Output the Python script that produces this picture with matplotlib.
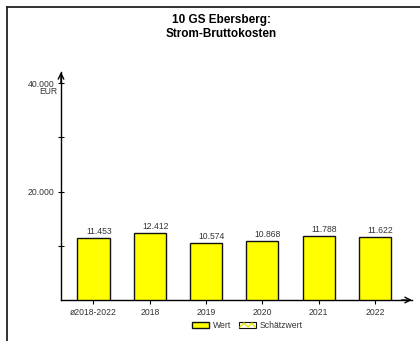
import matplotlib
matplotlib.use("Agg")
import matplotlib.pyplot as plt
from matplotlib.patches import Rectangle
from matplotlib.lines import Line2D

categories = ["ø2018-2022", "2018", "2019", "2020", "2021", "2022"]
values = [11453, 12412, 10574, 10868, 11788, 11622]
value_labels = ["11.453", "12.412", "10.574", "10.868", "11.788", "11.622"]
title = "10 GS Ebersberg:\nStrom-Bruttokosten"
ytick_vals = [10000, 20000, 30000, 40000]
ytick_labels = ["", "20.000", "", "40.000"]
unit = "EUR"
legend_labels = ["Wert", "Schätzwert"]

plt.rcParams['font.family'] = ['Liberation Sans', 'DejaVu Sans']
W, H = 420, 341
fig = plt.figure(figsize=(W / 100, H / 100), dpi=100)

def fx(px):
    return px / W

def fy(py):
    return 1 - py / H

# frame
fig.add_artist(Line2D([fx(7), fx(7)], [0, fy(7)], color="#222222", lw=1.3))
fig.add_artist(Line2D([fx(7), 1], [fy(7), fy(7)], color="#222222", lw=1.3))

ax = fig.add_axes([fx(61), fy(300), fx(412) - fx(61), fy(72) - fy(300)])
ax.set_facecolor("none")
ax.patch.set_alpha(0)

x = list(range(len(categories)))
bars = ax.bar(x, values, width=0.57, color="#ffff00", edgecolor="#111111", linewidth=1.0, zorder=3)
for xi, v, lab in zip(x, values, value_labels):
    ax.annotate(lab, (xi, v), xytext=(4, 1.2), textcoords="offset points",
                ha="center", va="bottom", fontsize=6.2, color="#333333")

ax.set_xlim(-0.577, 5.657)
ax.set_ylim(0, 42028)

for s in ["top", "right"]:
    ax.spines[s].set_visible(False)
ax.spines["left"].set_linewidth(1.0)
ax.spines["bottom"].set_linewidth(1.0)

ax.set_xticks(x)
ax.set_xticklabels(categories, fontsize=6.2, color="#333333")
ax.tick_params(axis="x", direction="out", length=3, width=0.8, pad=3)
ax.set_yticks(ytick_vals)
ax.set_yticklabels(ytick_labels, fontsize=6.2, color="#333333")
ax.tick_params(axis="y", direction="inout", length=5, width=0.8, pad=2)

# arrows
ax.annotate("", xy=(0, 1.0), xytext=(0, 0.95), xycoords="axes fraction",
            arrowprops=dict(arrowstyle="->", lw=1.0, color="black", shrinkA=0, shrinkB=0))
ax.annotate("", xy=(1.0, 0), xytext=(0.97, 0), xycoords="axes fraction",
            arrowprops=dict(arrowstyle="->", lw=1.0, color="black", shrinkA=0, shrinkB=0))

# unit label
fig.text(fx(57), fy(92), unit, ha="right", va="center", fontsize=6.2, color="#333333")

# title
fig.text(0.527, fy(27), title, ha="center", va="center", fontsize=8.5,
         fontweight="bold", linespacing=1.25)

# legend
ly = 325
fig.add_artist(Rectangle((fx(192), fy(ly + 3)), fx(209) - fx(192), fy(ly - 3) - fy(ly + 3),
                         facecolor="#ffff00", edgecolor="#111111", lw=1.0))
fig.text(fx(213), fy(ly), legend_labels[0], ha="left", va="center", fontsize=6.2, color="#333333")
fig.add_artist(Rectangle((fx(239), fy(ly + 3)), fx(256) - fx(239), fy(ly - 3) - fy(ly + 3),
                         facecolor="white", edgecolor="#111111", lw=0.8))
fig.add_artist(Line2D([fx(240), fx(244), fx(248), fx(252), fx(255)],
                      [fy(ly + 2), fy(ly - 2), fy(ly + 2), fy(ly - 2), fy(ly + 2)],
                      color="#e6e600", lw=1.0))
fig.text(fx(260), fy(ly), legend_labels[1], ha="left", va="center", fontsize=6.2, color="#333333")

fig.savefig("out.png", dpi=100)
